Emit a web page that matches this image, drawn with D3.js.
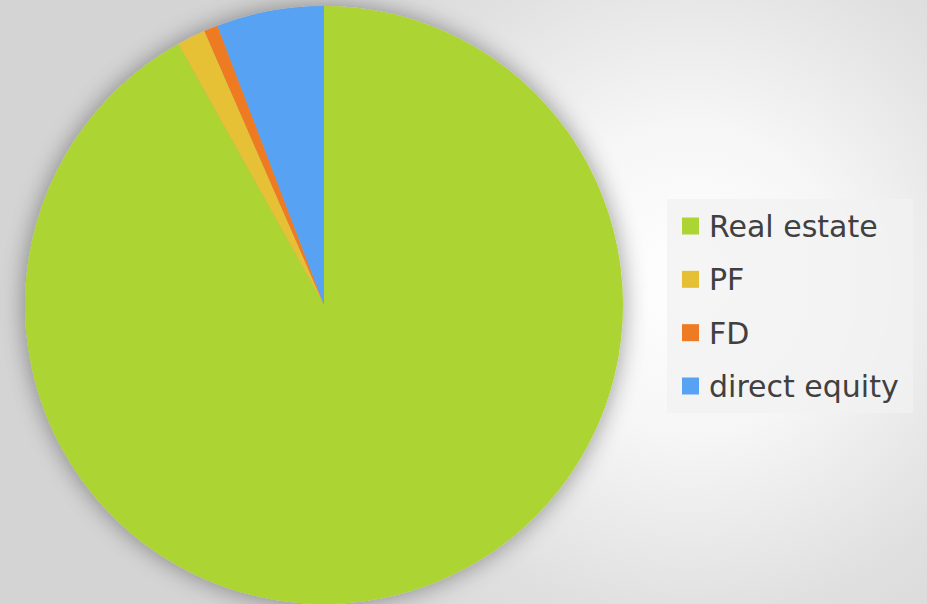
<!DOCTYPE html>
<html>
<head>
<meta charset="utf-8">
<script src="https://cdn.jsdelivr.net/npm/d3@7"></script>
<style>
  html, body { margin: 0; padding: 0; overflow: hidden; }
  svg { display: block; }
</style>
</head>
<body>
<div id="chart"></div>
<script>
// Asset allocation pie

const width = 927, height = 604;

// Data (share of total, %)
const categories = ["Real estate", "PF", "FD", "direct equity"];
const values = [91.9, 1.55, 0.75, 5.8];
const colors = ["#acd433", "#e6c034", "#ee7a24", "#58a2f3"];

const svg = d3.select("#chart")
    .append("svg")
    .attr("width", width)
    .attr("height", height);

const defs = svg.append("defs");

// Background: soft white spot right of the pie, grey towards edges
const bg = defs.append("radialGradient")
    .attr("id", "bg")
    .attr("gradientUnits", "userSpaceOnUse")
    .attr("cx", 690).attr("cy", 280).attr("r", 520);
bg.append("stop").attr("offset", "0").attr("stop-color", "#ffffff");
bg.append("stop").attr("offset", "0.3").attr("stop-color", "#f6f6f6");
bg.append("stop").attr("offset", "0.65").attr("stop-color", "#e0e0e0");
bg.append("stop").attr("offset", "1").attr("stop-color", "#d4d4d4");

// Soft shadow under the pie
const shadow = defs.append("filter")
    .attr("id", "shadow")
    .attr("x", "-20%").attr("y", "-20%")
    .attr("width", "140%").attr("height", "140%");
shadow.append("feGaussianBlur")
    .attr("in", "SourceAlpha")
    .attr("stdDeviation", 12)
    .attr("result", "blur");
shadow.append("feComponentTransfer")
    .append("feFuncA").attr("type", "linear").attr("slope", 0.4);
const merge = shadow.append("feMerge");
merge.append("feMergeNode");
merge.append("feMergeNode").attr("in", "SourceGraphic");

svg.append("rect")
    .attr("width", width)
    .attr("height", height)
    .attr("fill", "url(#bg)");

// Pie
const cx = 324, cy = 305, radius = 299;

const pie = d3.pie()
    .sort(null)
    .value(d => d);

const arc = d3.arc()
    .innerRadius(0)
    .outerRadius(radius);

const color = d3.scaleOrdinal()
    .domain(categories)
    .range(colors);

const g = svg.append("g")
    .attr("transform", `translate(${cx},${cy})`)
    .attr("filter", "url(#shadow)");

g.selectAll("path")
    .data(pie(values))
    .enter()
    .append("path")
    .attr("d", arc)
    .attr("fill", (d, i) => color(categories[i]));

// Legend
const legend = svg.append("g")
    .attr("transform", "translate(667,199)");

legend.append("rect")
    .attr("width", 246)
    .attr("height", 214)
    .attr("fill", "#f2f2f2")
    .attr("fill-opacity", 0.75);

const rowY = d3.scalePoint()
    .domain(categories)
    .range([27, 187]);

const items = legend.selectAll(".item")
    .data(categories)
    .enter()
    .append("g")
    .attr("class", "item")
    .attr("transform", d => `translate(0,${rowY(d)})`);

items.append("rect")
    .attr("x", 15)
    .attr("y", -8.5)
    .attr("width", 17)
    .attr("height", 17)
    .attr("fill", d => color(d));

items.append("text")
    .attr("x", 42)
    .attr("y", 11)
    .attr("fill", "#404040")
    .style("font-family", "'DejaVu Sans', sans-serif")
    .style("font-size", "30px")
    .text(d => d);
</script>
</body>
</html>
